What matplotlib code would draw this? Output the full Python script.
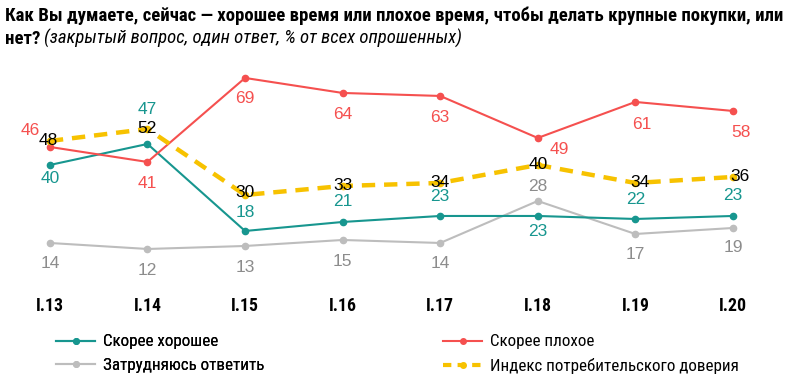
import matplotlib
matplotlib.use("Agg")
import matplotlib.pyplot as plt
from matplotlib.lines import Line2D
from matplotlib import font_manager as fm

# pick a condensed face that is installed, fall back to DejaVu for odd glyphs
have = {f.name for f in fm.fontManager.ttflist}
for cand in ["Roboto Condensed", "PT Sans Narrow", "Fira Sans Condensed",
             "Archivo Narrow", "IBM Plex Sans Condensed"]:
    if cand in have:
        break
narrow = [cand, "DejaVu Sans"]
nums = ["Liberation Sans", "DejaVu Sans"]

waves = ["I.13", "I.14", "I.15", "I.16", "I.17", "I.18", "I.19", "I.20"]
good = [40, 47, 18, 21, 23, 23, 22, 23]
bad = [46, 41, 69, 64, 63, 49, 61, 58]
hard = [14, 12, 13, 15, 14, 28, 17, 19]
index = [48, 52, 30, 33, 34, 40, 34, 36]

title1 = "Как Вы думаете, сейчас — хорошее время или плохое время, чтобы делать крупные покупки, или"
title2a = "нет?"
title2b = "(закрытый вопрос, один ответ, % от всех опрошенных)"
names = ["Скорее хорошее", "Затрудняюсь ответить", "Скорее плохое", "Индекс потребительского доверия"]

c_good = "#17968f"
c_bad = "#f5504f"
c_hard = "#bdbdbd"
c_hard_txt = "#8c8c8c"
c_idx = "#f7c200"

fig = plt.figure(figsize=(8, 3.86), dpi=100)
renderer = fig.canvas.get_renderer()


# font size that makes a string about target_px wide
def fit(s, target_px, **kw):
    t = fig.text(0, 0, s, fontsize=10, family=narrow, **kw)
    w = t.get_window_extent(renderer).width
    t.remove()
    return 10 * target_px / w


fs_title = fit(title1, 776, fontweight="bold")
fs_leg = fit(names[3], 248)
fs_tick = fit("I.20", 28, fontweight="bold")

ax = fig.add_axes([0.038, 0.2617, 0.9025, 0.583])
x = list(range(len(waves)))

ax.plot(x, hard, color=c_hard, lw=1.5, marker="o", ms=4.5, zorder=2)
ax.plot(x, good, color=c_good, lw=1.5, marker="o", ms=4.5, zorder=3)
ax.plot(x, bad, color=c_bad, lw=1.5, marker="o", ms=4.5, zorder=3)
ax.plot(x, index, color=c_idx, lw=3.2, ls=(0, (3, 2)), marker="o", ms=4.5, zorder=4)

ax.set_xlim(-0.2, 7.2)
ax.set_ylim(0, 75)
for s in ax.spines.values():
    s.set_visible(False)
ax.set_yticks([])
ax.set_xticks(x)
ax.set_xticklabels(waves, fontweight="bold", fontsize=fs_tick, family=narrow)
ax.tick_params(axis="x", length=0, pad=9)

# label offsets in pixels (dx, dy)
good_off = [(0, -14), (0, 34), (0, 18), (0, 20), (0, 19), (0, -16), (0, 19), (0, 20)]
bad_off = [(-20, 16), (0, -22), (0, -21), (0, -22), (0, -22), (22, -12), (6, -23), (8, -22)]
hard_off = [(0, -21), (0, -22), (0, -22), (0, -22), (0, -21), (0, 14), (0, -21), (0, -20)]
idx_off = [(-2, 0), (0, 0), (0, 2), (0, 0), (0, 0), (0, 0), (5, 0), (7, 0)]


def labels(vals, offs, color, z=5):
    for i, (v, o) in enumerate(zip(vals, offs)):
        ax.annotate(str(v), (i, v), xytext=o, textcoords="offset pixels",
                    ha="center", va="center", color=color, fontsize=12.5,
                    family=nums, zorder=z)


labels(good, good_off, c_good)
labels(bad, bad_off, c_bad)
labels(hard, hard_off, c_hard_txt)
labels(index, idx_off, "black", z=6)

# title, second line mixes bold and italic
fig.text(0.006, 0.958, title1, fontsize=fs_title, fontweight="bold", family=narrow, va="center")
t2 = fig.text(0.006, 0.9, title2a, fontsize=fs_title, fontweight="bold", family=narrow, va="center")
bb = t2.get_window_extent(renderer)
fig.text(bb.x1 / 800 + 0.005, 0.9, title2b, fontsize=fs_title, style="italic",
         family=narrow, va="center")

h_good = Line2D([], [], color=c_good, lw=1.5, marker="o", ms=4)
h_hard = Line2D([], [], color=c_hard, lw=1.5, marker="o", ms=4)
h_bad = Line2D([], [], color=c_bad, lw=1.5, marker="o", ms=4)
h_idx = Line2D([], [], color=c_idx, lw=3, ls=(0, (2, 1.5)), marker="o", ms=4)

fs_px = fs_leg * 100 / 72
leg_kw = dict(loc="upper left", frameon=False, prop={"family": narrow, "size": fs_leg},
              handlelength=39 / fs_px, handletextpad=8 / fs_px, labelspacing=0.48,
              borderaxespad=0, borderpad=0)
top = 1 - (345 - 0.62 * fs_px) / 386
leg1 = fig.legend([h_good, h_hard], names[:2], bbox_to_anchor=(56 / 800, top), **leg_kw)
fig.add_artist(leg1)
fig.legend([h_bad, h_idx], names[2:], bbox_to_anchor=(443 / 800, top), **leg_kw)

fig.savefig("out.png", dpi=100)
